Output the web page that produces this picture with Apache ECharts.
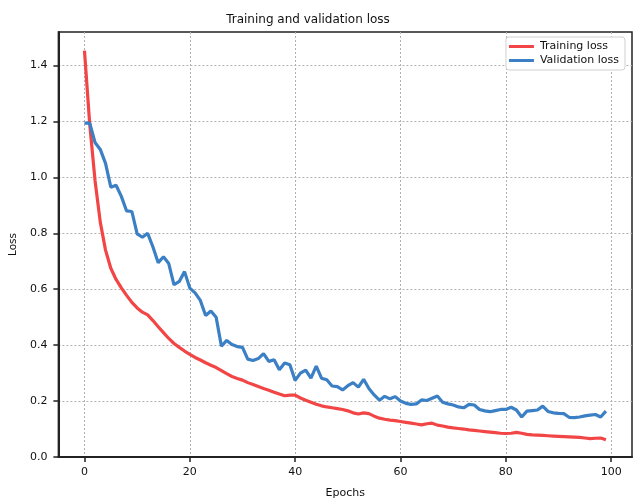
<!DOCTYPE html>
<html>
<head>
<meta charset="utf-8">
<title>Training and validation loss</title>
<script src="https://cdn.jsdelivr.net/npm/echarts@6/dist/echarts.min.js"></script>
<style>
  html, body { margin: 0; padding: 0; background: #fff; }
  #chart { width: 636px; height: 504px; }
</style>
</head>
<body>
<div id="chart"></div>
<script>
// Per-epoch loss values
const epochs = Array.from({ length: 100 }, (_, i) => i);

const trainingLoss = [
  1.453, 1.190, 0.990, 0.840, 0.740, 0.675, 0.635, 0.605, 0.578, 0.553,
  0.533, 0.518, 0.508, 0.488, 0.466, 0.445, 0.424, 0.406, 0.392, 0.379,
  0.367, 0.356, 0.347, 0.337, 0.328, 0.320, 0.309, 0.298, 0.288, 0.281,
  0.275, 0.266, 0.259, 0.252, 0.245, 0.239, 0.232, 0.225, 0.219, 0.221,
  0.221, 0.211, 0.203, 0.196, 0.189, 0.183, 0.179, 0.176, 0.173, 0.170,
  0.165, 0.158, 0.154, 0.158, 0.155, 0.146, 0.139, 0.135, 0.132, 0.130,
  0.127, 0.124, 0.121, 0.118, 0.115, 0.119, 0.121, 0.114, 0.111, 0.107,
  0.104, 0.102, 0.100, 0.097, 0.095, 0.093, 0.091, 0.089, 0.087, 0.085,
  0.084, 0.085, 0.088, 0.085, 0.081, 0.079, 0.078, 0.077, 0.076, 0.075,
  0.074, 0.073, 0.072, 0.071, 0.070, 0.068, 0.066, 0.067, 0.068, 0.062
];

const validationLoss = [
  1.194, 1.194, 1.125, 1.100, 1.050, 0.965, 0.972, 0.932, 0.880, 0.878,
  0.798, 0.786, 0.800, 0.751, 0.695, 0.716, 0.692, 0.616, 0.628, 0.663,
  0.604, 0.587, 0.560, 0.506, 0.522, 0.500, 0.396, 0.417, 0.402, 0.395,
  0.392, 0.350, 0.345, 0.352, 0.370, 0.342, 0.348, 0.312, 0.336, 0.330,
  0.274, 0.300, 0.311, 0.282, 0.325, 0.282, 0.276, 0.254, 0.252, 0.240,
  0.255, 0.266, 0.250, 0.278, 0.245, 0.222, 0.203, 0.217, 0.208, 0.216,
  0.200, 0.192, 0.188, 0.190, 0.204, 0.202, 0.210, 0.218, 0.196, 0.190,
  0.186, 0.179, 0.176, 0.188, 0.186, 0.170, 0.165, 0.162, 0.166, 0.170,
  0.170, 0.178, 0.168, 0.143, 0.164, 0.166, 0.168, 0.182, 0.163, 0.158,
  0.156, 0.155, 0.142, 0.141, 0.143, 0.147, 0.150, 0.152, 0.143, 0.164
];

// Tick positions shown on each axis
const epochTicks = [0, 20, 40, 60, 80, 100];
const lossTicks = [0, 0.2, 0.4, 0.6, 0.8, 1.0, 1.2, 1.4];

const FONT = '"DejaVu Sans", sans-serif';
const TEXT = '#111';

const chart = echarts.init(document.getElementById('chart'), null, { renderer: 'canvas' });

chart.setOption({
  animation: false,
  backgroundColor: '#fff',
  textStyle: { fontFamily: FONT },
  title: {
    text: 'Training and validation loss',
    left: 303,
    top: 9,
    textAlign: 'center',
    textStyle: { fontFamily: FONT, fontSize: 12, fontWeight: 'normal', color: TEXT }
  },
  legend: {
    orient: 'vertical',
    right: 11,
    top: 37,
    icon: 'rect',
    itemWidth: 25,
    itemHeight: 3,
    itemGap: 3,
    padding: [4, 6, 4, 3],
    backgroundColor: '#fff',
    borderColor: '#d0d0d0',
    borderWidth: 1,
    borderRadius: 3,
    textStyle: { fontFamily: FONT, fontSize: 11, color: TEXT, padding: [0, 0, 0, 1] },
    data: ['Training loss', 'Validation loss']
  },
  grid: {
    left: 57,
    right: 4,
    top: 32,
    bottom: 40,
    show: true,
    borderColor: '#222',
    borderWidth: 1.5,
    containLabel: false
  },
  xAxis: {
    type: 'value',
    min: -4.95,
    max: 103.95,
    minInterval: 20,
    maxInterval: 20,
    name: 'Epochs',
    nameLocation: 'middle',
    nameGap: 31,
    nameTextStyle: { fontFamily: FONT, fontSize: 11, color: TEXT },
    axisLine: { show: true, onZero: false, lineStyle: { color: '#222', width: 2 } },
    axisTick: { show: true, customValues: epochTicks, length: 5, lineStyle: { color: '#222', width: 1.5 } },
    axisLabel: {
      customValues: epochTicks,
      margin: 10,
      fontFamily: FONT, fontSize: 11, color: TEXT,
      formatter: v => String(Math.round(v))
    },
    splitLine: { show: true, lineStyle: { color: '#b0b0b0', width: 1, type: [2, 2] } }
  },
  yAxis: {
    type: 'value',
    min: 0,
    max: 1.52,
    interval: 0.2,
    name: 'Loss',
    nameLocation: 'middle',
    nameGap: 37,
    nameRotate: 90,
    nameTextStyle: { fontFamily: FONT, fontSize: 10.5, color: TEXT },
    axisLine: { show: true, onZero: false, lineStyle: { color: '#222', width: 2 } },
    axisTick: { show: true, customValues: lossTicks, length: 5, lineStyle: { color: '#222', width: 1.5 } },
    axisLabel: {
      customValues: lossTicks,
      margin: 11,
      fontFamily: FONT, fontSize: 11, color: TEXT,
      formatter: v => v.toFixed(1)
    },
    splitLine: { show: true, lineStyle: { color: '#b0b0b0', width: 1, type: [2, 2] } }
  },
  series: [
    {
      name: 'Training loss',
      type: 'line',
      data: epochs.map((e, i) => [e, trainingLoss[i]]),
      showSymbol: false,
      symbol: 'none',
      lineStyle: { color: '#f24545', width: 3.2 },
      itemStyle: { color: '#f24545' },
      z: 3
    },
    {
      name: 'Validation loss',
      type: 'line',
      data: epochs.map((e, i) => [e, validationLoss[i]]),
      showSymbol: false,
      symbol: 'none',
      lineStyle: { color: '#3b7fc4', width: 3.2 },
      itemStyle: { color: '#3b7fc4' },
      z: 4
    }
  ]
});
</script>
</body>
</html>
